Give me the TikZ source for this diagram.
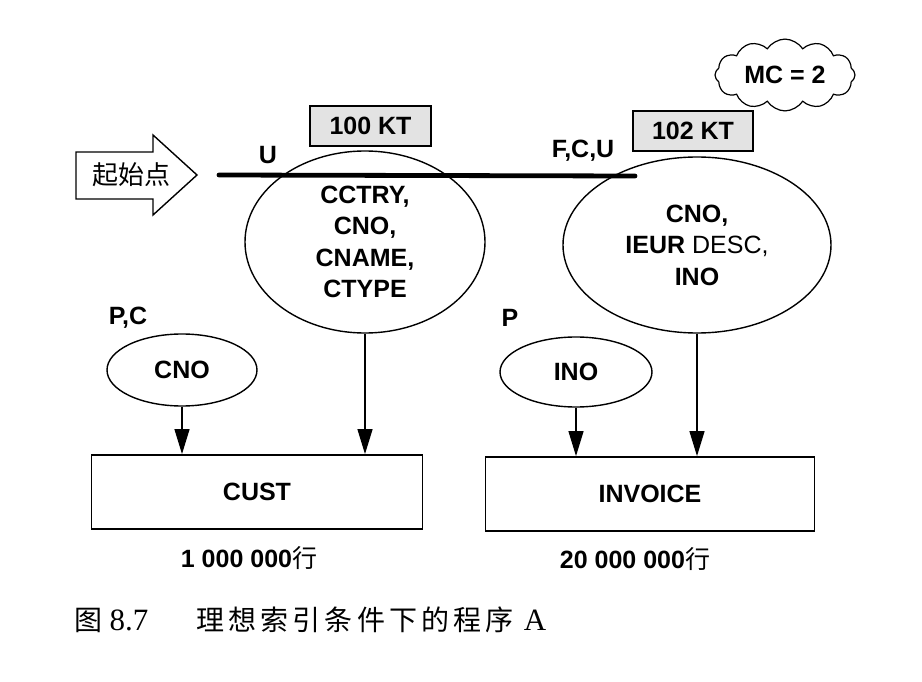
\documentclass[tikz,border=0pt]{standalone}
\usepackage{fontspec}
\setmainfont{Liberation Sans}
\newfontfamily\cjk{Noto Sans CJK SC}
\newfontfamily\cjkcap[LetterSpace=15]{Noto Sans CJK SC}
\newfontfamily\capserif{Liberation Serif}
\usetikzlibrary{positioning,arrows.meta,shapes.geometric,shapes.symbols}
\tikzset{
  >={Triangle[length=25pt,width=15pt]},
  lbl/.style={font=\fontsize{25}{31.5}\selectfont\bfseries,inner sep=0pt,align=center},
  idx/.style={ellipse,draw=black,line width=1.4pt,lbl},
  tbl/.style={draw=black,line width=1.8pt,lbl},
  ktbox/.style={draw=black,fill=gray!22,line width=1.4pt,lbl,
    minimum height=40pt},
  ptr/.style={->,line width=1.3pt},
  scanline/.style={line width=4.8pt,line cap=round},
  startarrow/.style={draw=black,line width=1.4pt,line join=miter},
  cloudlbl/.style={cloud,cloud puffs=12,cloud puff arc=115,aspect=2,
    draw=black,line width=1.2pt,lbl,minimum width=140pt,minimum height=70pt},
  caplbl/.style={inner sep=0pt,font=\fontsize{28}{30}\selectfont},
}
\begin{document}
\begin{tikzpicture}[x=1pt,y=-1pt]
  \useasboundingbox (0,0) rectangle (922,682);
  \node[idx,minimum width=240pt,minimum height=182pt] (cidx) at (365,242)
    {CCTRY,\\CNO,\\CNAME,\\CTYPE};
  \node[idx,minimum width=268pt,minimum height=176pt] (iidx) at (697,245)
    {CNO,\\IEUR {\mdseries DESC,}\\INO};
  \node[idx,minimum width=150pt,minimum height=72pt] (cno) at (182,370) {CNO};
  \node[idx,minimum width=152pt,minimum height=70pt] (ino) at (576,372) {INO};
  \node[tbl,minimum width=331pt,minimum height=74pt] (cust) at (257,492) {CUST};
  \node[tbl,minimum width=329pt,minimum height=74pt] (inv) at (650,494) {INVOICE};
  \node[ktbox,minimum width=121pt] (ckt) at (370.5,126) {100 KT};
  \node[ktbox,minimum width=120pt] (ikt) at (693,131) {102 KT};
  \node[cloudlbl] (mc) at (785,75) {MC = 2};
  \node[lbl] (cu) at (268,155) {U};
  \node[lbl] (fcu) at (583,151) {F,C,U};
  \node[lbl] (pc) at (128,318) {P,C};
  \node[lbl] (pi) at (510,318) {P};
  \node[lbl] (crows) at (249,558) {1 000 000{\mdseries\cjk 行}};
  \node[lbl] (irows) at (635,559) {20 000 000{\mdseries\cjk 行}};
  \node[inner sep=0pt,font=\fontsize{26}{28}\selectfont\cjk] (start) at (131,175) {起始点};
  \draw[startarrow] (76,152) -- (153,152) -- (153,135) -- (197,175)
    -- (153,215) -- (153,199) -- (76,199) -- cycle;
  \coordinate (scanA) at (219,175);
  \coordinate (scanB) at (635,176);
  \draw[scanline] (scanA) -- (scanB);
  \draw[ptr] (cno.south) -- (cno.south |- cust.north);
  \draw[ptr] (cidx.south) -- (cidx.south |- cust.north);
  \draw[ptr] (ino.south) -- (ino.south |- inv.north);
  \draw[ptr] (iidx.south) -- (iidx.south |- inv.north);
  \node[caplbl,font=\fontsize{28}{30}\selectfont\cjk] (cap1) at (88,620) {图};
  \node[caplbl,font=\fontsize{31}{32}\selectfont\capserif] (cap2) at (129,620) {8.7};
  \node[caplbl,font=\fontsize{28}{30}\selectfont\cjkcap] (cap3) at (355,620) {理想索引条件下的程序};
  \node[caplbl,font=\fontsize{31}{32}\selectfont\capserif] (cap4) at (535,620) {A};
\end{tikzpicture}
\end{document}
